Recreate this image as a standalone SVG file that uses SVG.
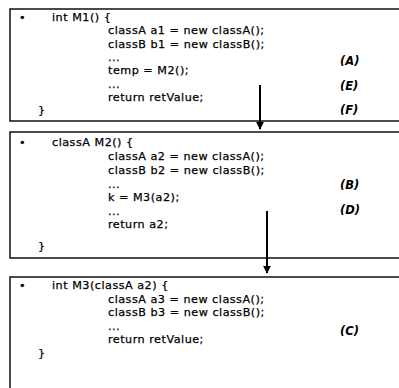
<svg xmlns="http://www.w3.org/2000/svg" width="399" height="388" viewBox="0 0 399 388">
<defs>
<style>
.box{fill:#fff;stroke:#111;stroke-width:1.5}
text{font-family:"DejaVu Sans","Liberation Sans",sans-serif;font-size:11.2px;letter-spacing:0.5px;fill:#000;stroke:#000;stroke-width:0.25}
.lbl{font-style:italic;font-weight:bold;font-size:11.5px;letter-spacing:0;stroke-width:0}
.arr{stroke:#000;stroke-width:2;fill:none}
</style>
<marker id="ah" viewBox="0 0 10 10" refX="9" refY="5" markerWidth="4" markerHeight="4" orient="auto" markerUnits="strokeWidth">
<path d="M0,0 L10,5 L0,10 z" fill="#000"/>
</marker>
</defs>
<rect width="399" height="388" fill="#fff"/>
<g id="node-m1">
<rect class="box" x="10" y="9" width="395" height="112"/>
<text x="19" y="21">•</text>
<text x="52" y="21">int M1() {</text>
<text x="108" y="34.3">classA a1 = new classA();</text>
<text x="108" y="47.6">classB b1 = new classB();</text>
<text x="108" y="61">...</text>
<text x="108" y="74.3">temp = M2();</text>
<text x="108" y="87.6">...</text>
<text x="108" y="101">return retValue;</text>
<text x="38" y="114.3">}</text>
<text class="lbl" x="340" y="65">(A)</text>
<text class="lbl" x="340" y="90">(E)</text>
<text class="lbl" x="340" y="114">(F)</text>
</g>
<g id="node-m2">
<rect class="box" x="10" y="132" width="395" height="126"/>
<text x="19" y="146">•</text>
<text x="52" y="146">classA M2() {</text>
<text x="108" y="160">classA a2 = new classA();</text>
<text x="108" y="174">classB b2 = new classB();</text>
<text x="108" y="187.5">...</text>
<text x="108" y="201">k = M3(a2);</text>
<text x="108" y="214.5">...</text>
<text x="108" y="228">return a2;</text>
<text x="38" y="250">}</text>
<text class="lbl" x="340" y="189">(B)</text>
<text class="lbl" x="340" y="214">(D)</text>
</g>
<g id="node-m3">
<rect class="box" x="10" y="277" width="395" height="120"/>
<text x="19" y="289">•</text>
<text x="52" y="289">int M3(classA a2) {</text>
<text x="108" y="302.5">classA a3 = new classA();</text>
<text x="108" y="316">classB b3 = new classB();</text>
<text x="108" y="329.5">...</text>
<text x="108" y="343">return retValue;</text>
<text x="38" y="356.5">}</text>
<text class="lbl" x="340" y="335">(C)</text>
</g>
<g id="connectors">
<line class="arr" x1="260" y1="85" x2="260" y2="129" marker-end="url(#ah)"/>
<line class="arr" x1="267" y1="211" x2="267" y2="273" marker-end="url(#ah)"/>
</g>
</svg>
